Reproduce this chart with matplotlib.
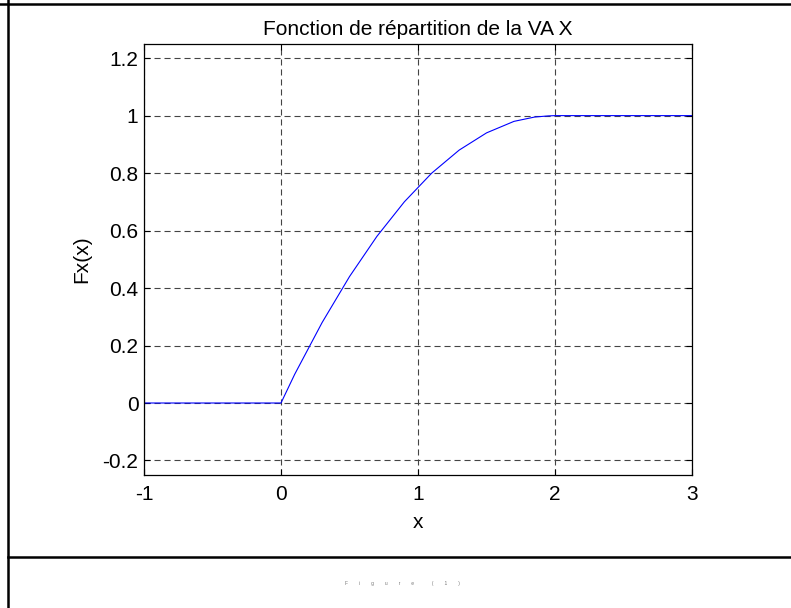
import matplotlib
matplotlib.use("Agg")
import matplotlib.pyplot as plt
from matplotlib.lines import Line2D

plt.rcParams['font.family'] = ['Liberation Sans', 'DejaVu Sans']

# values
x = [-1.0, 0.0, 0.05, 0.1, 0.15, 0.2, 0.25, 0.3, 0.35, 0.4, 0.45, 0.5,
     0.55, 0.6, 0.65, 0.7, 0.75, 0.8, 0.85, 0.9, 0.95, 1.0,
     1.05, 1.1, 1.15, 1.2, 1.25, 1.3, 1.35, 1.4, 1.45, 1.5,
     1.55, 1.6, 1.65, 1.7, 1.75, 1.8, 1.85, 1.9, 1.95, 2.0, 3.0]
Fx = [0.0, 0.0, 0.05, 0.10, 0.145, 0.19, 0.235, 0.28, 0.32, 0.36, 0.40, 0.44,
      0.475, 0.51, 0.545, 0.58, 0.61, 0.64, 0.67, 0.70, 0.725, 0.75,
      0.775, 0.80, 0.82, 0.84, 0.86, 0.88, 0.895, 0.91, 0.925, 0.94,
      0.95, 0.96, 0.97, 0.98, 0.985, 0.99, 0.995, 0.997, 0.999, 1.0, 1.0]
xticks = [-1, 0, 1, 2, 3]
xtick_labels = ['-1', '0', '1', '2', '3']
yticks = [-0.2, 0, 0.2, 0.4, 0.6, 0.8, 1, 1.2]
ytick_labels = ['-0.2', '0', '0.2', '0.4', '0.6', '0.8', '1', '1.2']

fig = plt.figure(figsize=(7.91, 6.08), dpi=100)
ax = fig.add_axes([0.182, 0.219, 0.693, 0.709])

ax.plot(x, Fx, color='#0000ff', lw=0.8)
ax.set_xlim(-1, 3)
ax.set_ylim(-0.25, 1.25)
ax.set_xticks(xticks)
ax.set_xticklabels(xtick_labels)
ax.set_yticks(yticks)
ax.set_yticklabels(ytick_labels)
ax.tick_params(direction='in', top=True, right=True, labelsize=15, length=4)
ax.tick_params(axis='x', pad=7)
ax.tick_params(axis='y', pad=4)
ax.grid(True, color='#444444', ls=(0, (5.5, 3.5)), lw=0.8)
for s in ax.spines.values():
    s.set_linewidth(0.9)

ax.set_title('Fonction de répartition de la VA X', fontsize=15, pad=6)
ax.set_xlabel('x', fontsize=15, labelpad=7)
ax.set_ylabel('Fx(x)', fontsize=15, labelpad=8)

# outer window frame like the MATLAB figure export
fig.add_artist(Line2D([0.0, 1.0], [1 - 4 / 608, 1 - 4 / 608], transform=fig.transFigure, color='k', lw=1.8))
fig.add_artist(Line2D([8 / 791, 8 / 791], [0.0, 1.0], transform=fig.transFigure, color='k', lw=1.8))
fig.add_artist(Line2D([8 / 791, 1.0], [1 - 557 / 608, 1 - 557 / 608], transform=fig.transFigure, color='k', lw=1.8))
fig.text(402 / 791, 1 - 584 / 608, 'F        i        g        u        r        e             (        1        )',
         fontsize=3.5, color='#777777', ha='center', va='center')

fig.savefig('out.png', dpi=100)
